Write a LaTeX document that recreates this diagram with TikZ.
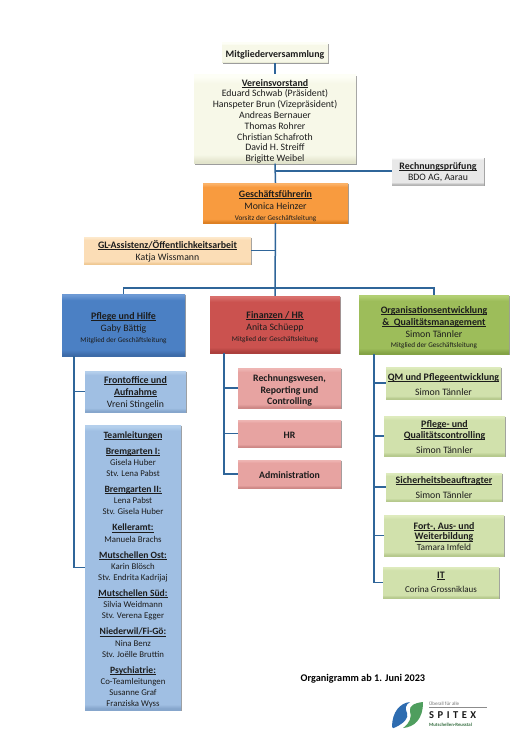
\documentclass[tikz,border=0pt]{standalone}
\usepackage{fontspec}
\setmainfont{Carlito}
\usetikzlibrary{shadows}
\newcommand{\mkbevel}[4]{%
  \definecolor{#1L}{HTML}{#2}\definecolor{#1B}{HTML}{#3}\definecolor{#1D}{HTML}{#4}%
  \pgfdeclareverticalshading{#1}{100bp}{color(0bp)=(#1D); color(25bp)=(#1D); color(26bp)=(#1D); color(30bp)=(#1B); color(70bp)=(#1B); color(74bp)=(#1L); color(75bp)=(#1L); color(100bp)=(#1L)}}
\mkbevel{cream}{FDFEF6}{F7F8E8}{E2E4CC}
\mkbevel{greyb}{FFFFFF}{E8E8E8}{B4B4B4}
\mkbevel{orangeb}{FBB268}{F89B3F}{DD7F22}
\mkbevel{peach}{FDE9CC}{FBDDB6}{EFC893}
\mkbevel{blueb}{6C99D4}{4B80C4}{3D6BA8}
\mkbevel{redb}{D9706D}{CB524F}{AC403D}
\mkbevel{greenb}{B2CF73}{9DBD5A}{84A345}
\mkbevel{lblue}{B4CFEC}{A0BFE3}{86A6CC}
\mkbevel{lred}{EEB5B3}{E7A3A1}{CE8886}
\mkbevel{lgreen}{DEEBBD}{D1E1AC}{B6C98D}
\definecolor{tallB}{HTML}{A0BFE3}\definecolor{tallL}{HTML}{B4CFEC}\definecolor{tallD}{HTML}{86A6CC}
\pgfdeclareverticalshading{lbluetall}{100bp}{color(0bp)=(tallD); color(25bp)=(tallD); color(25.3bp)=(tallD); color(26bp)=(tallB); color(74bp)=(tallB); color(74.7bp)=(tallL); color(75bp)=(tallL); color(100bp)=(tallL)}
\definecolor{conn}{HTML}{2F6599}
\definecolor{ink}{HTML}{1C1C1C}
\definecolor{logoblue}{HTML}{2E6CB0}
\definecolor{logogreen}{HTML}{4F9E5E}
\tikzset{
  orgbox/.style={draw=none,inner sep=0pt,align=center,text=ink,
    drop shadow={shadow xshift=0.6pt,shadow yshift=-1.4pt,fill=black!70,opacity=.55}},
  wire/.style={draw=conn,line width=1.5pt},
  wirethin/.style={draw=conn,line width=1.2pt}
}
\newcommand{\fs}[2]{\fontsize{#1}{#2}\selectfont}
\newcommand{\bx}[8]{% name x1 y1 x2 y2 shading baselineskip text
  \pgfmathsetmacro{\cxx}{(#2+#4)/2}\pgfmathsetmacro{\cyy}{(#3+#5)/2}%
  \pgfmathsetmacro{\wdd}{#4-#2}\pgfmathsetmacro{\htt}{#5-#3}%
  \node[orgbox,shading=#6,minimum width=\wdd pt,minimum height=\htt pt,font={\fs{9.8}{#7}\lineskiplimit=-100pt\relax}] (#1) at (\cxx,\cyy) {#8};}
\newcommand{\up}[1]{\rule{0pt}{\dimexpr 7.4pt+#1pt*2\relax}}
\newcommand{\hd}[1]{{\bfseries\fontsize{9.9}{11}\selectfont\setbox0=\hbox{#1}\rlap{\rule[-1.3pt]{\wd0}{0.55pt}}\box0}}
\newcommand{\hdt}[1]{{\bfseries\fontsize{9.6}{11}\selectfont\setbox0=\hbox{#1}\rlap{\rule[-1.3pt]{\wd0}{0.55pt}}\box0}}
\newcommand{\sm}[1]{{\fontsize{7.2}{9}\selectfont #1}}
\newcommand{\tn}[1]{{\fontsize{8.8}{11}\selectfont #1}}
\begin{document}
\begin{tikzpicture}[x=1pt,y=-1pt]
\useasboundingbox[fill=white] (0,0) rectangle (532,752);
\bx{mv}{222}{43}{328}{63}{cream}{11}{\up{1.5}\textbf{\fontsize{9.9}{11}\selectfont Mitgliederversammlung}}
\bx{vv}{194}{76}{356}{162}{cream}{10.8}{\up{2}\hd{Vereinsvorstand}\\Eduard Schwab (Präsident)\\Hanspeter Brun (Vizepräsident)\\Andreas Bernauer\\Thomas Rohrer\\Christian Schafroth\\David H. Streiff\\Brigitte Weibel}
\bx{rp}{392}{157}{484}{185}{greyb}{11}{\up{1}\hd{Rechnungsprüfung}\\BDO AG, Aarau}
\bx{gf}{203}{183}{348}{223}{orangeb}{12}{\up{2.5}\hd{Geschäftsführerin}\\Monica Heinzer\\[-1pt]\sm{Vorsitz der Geschäftsleitung}}
\bx{gl}{84}{237}{251}{264}{peach}{12}{\up{1}\hd{GL-Assistenz/Öffentlichkeitsarbeit}\\Katja Wissmann}
\bx{pf}{62}{294}{185}{356}{blueb}{12}{\up{2.7}\hd{Pflege und Hilfe}\\Gaby Bättig\\[-1pt]\sm{Mitglied der Geschäftsleitung}}
\bx{fi}{210}{296}{340}{353}{redb}{12}{\up{2.3}\hd{Finanzen / HR}\\Anita Schüepp\\[-1.5pt]\sm{Mitglied der Geschäftsleitung}}
\bx{og}{359}{295}{509}{354}{greenb}{12}{\up{2.5}\hd{Organisationsentwicklung}\\\hd{\&\ \ Qualitätsmanagement}\\Simon Tännler\\[-2pt]\sm{Mitglied der Geschäftsleitung}}
\bx{fo}{85}{371}{186}{412}{lblue}{12}{\up{1}\hd{Frontoffice und}\\\hd{Aufnahme}\\Vreni Stingelin}
\bx{tl}{85}{425}{181}{710}{lbluetall}{11.2}{\up{2}\hdt{Teamleitungen}\\[4.8pt]
  \hdt{Bremgarten I:}\\\tn{Gisela Huber}\\\tn{Stv. Lena Pabst}\\[4.8pt]
  \hdt{Bremgarten II:}\\\tn{Lena Pabst}\\\tn{Stv. Gisela Huber}\\[4.8pt]
  \hdt{Kelleramt:}\\\tn{Manuela Brachs}\\[4.8pt]
  \hdt{Mutschellen Ost:}\\\tn{Karin Blösch}\\\tn{Stv. Endrita Kadrijaj}\\[4.8pt]
  \hdt{Mutschellen Süd:}\\\tn{Silvia Weidmann}\\\tn{Stv. Verena Egger}\\[4.8pt]
  \hdt{Niederwil/Fi-Gö:}\\\tn{Nina Benz}\\\tn{Stv. Joëlle Bruttin}\\[4.8pt]
  \hdt{Psychiatrie:}\\\tn{Co-Teamleitungen}\\\tn{Susanne Graf}\\\tn{Franziska Wyss}}
\bx{rw}{238}{368}{341}{408}{lred}{11.6}{\up{2.3}\textbf{Rechnungswesen,}\\\textbf{Reporting und}\\\textbf{Controlling}}
\bx{hr}{238}{420}{341}{447}{lred}{12}{\up{1}\textbf{HR}}
\bx{ad}{238}{460}{341}{488}{lred}{12}{\up{1}\textbf{Administration}}
\bx{qm}{386}{367}{501}{399}{lgreen}{15}{\up{1}\hd{QM und Pflegeentwicklung}\\Simon Tännler}
\bx{pq}{384}{416}{505}{456}{lgreen}{11}{\up{.7}\hd{Pflege- und}\\\hd{Qualitätscontrolling}\\[4pt]Simon Tännler}
\bx{si}{386}{473}{502}{501}{lgreen}{15}{\up{.5}\hd{Sicherheitsbeauftragter}\\Simon Tännler}
\bx{fb}{384}{515}{504}{556}{lgreen}{10.8}{\up{.7}\hd{Fort-, Aus- und}\\\hd{Weiterbildung}\\{\fontsize{9.4}{11}\selectfont Tamara Imfeld}}
\bx{it}{383}{567}{499}{598}{lgreen}{14.3}{\hd{IT}\\{\fontsize{9}{11}\selectfont Corina Grossniklaus}}
% connectors
\coordinate (bus) at (275,288);
\coordinate (pv) at (74,356);
\coordinate (fv) at (224,353);
\coordinate (ov) at (374,354);
\draw[wire] (mv.south) -- (vv.north);
\draw[wire] (vv.south) -- (gf.north);
\draw[wirethin] (rp.west) -- (rp.west -| vv.south);
\draw[wire] (gf.south) -- (bus) -- (fi.north);
\draw[wirethin] (gl.east) -- (gl.east -| gf.south);
\draw[wirethin] (pf.north) -- (pf.north |- bus) -- (og.north |- bus) -- (og.north);
\draw[wirethin] (pv) -- (pv |- tl.west) -- (tl.west);
\draw[wirethin] (fo.west) -- (fo.west -| pv);
\draw[wirethin] (fv) -- (fv |- ad.west) -- (ad.west);
\draw[wirethin] (rw.west) -- (rw.west -| fv);
\draw[wirethin] (hr.west) -- (hr.west -| fv);
\draw[wirethin] (ov) -- (ov |- it.west) -- (it.west);
\draw[wirethin] (qm.west) -- (qm.west -| ov);
\draw[wirethin] (pq.west) -- (pq.west -| ov);
\draw[wirethin] (si.west) -- (si.west -| ov);
\draw[wirethin] (fb.west) -- (fb.west -| ov);
% title
\node[anchor=west,inner sep=0pt,text=black,font={\fs{10.25}{12}\bfseries}] (title) at (300.5,678.5) {Organigramm ab 1. Juni 2023};
% logo
\fill[logoblue] (410,702) .. controls (400,703) and (392,712) .. (392,727) .. controls (392,729) and (394,728) .. (396,727) .. controls (404,723) and (409,718) .. (407,713) .. controls (405,709) and (405,705) .. (410,702) -- cycle;
\fill[logogreen] (423,702) .. controls (414,703) and (409,706) .. (410,711) .. controls (412,717) and (410,723) .. (403,728) .. controls (414,727) and (423,720) .. (423,702) -- cycle;
\node[inner sep=0pt,anchor=west,text=black!55,font={\fs{5}{6}}] (l1) at (429,703.5) {Überall für alle};
\draw[black!45,line width=0.4pt] (429,707) -- (487,707);
\node[inner sep=0pt,anchor=west,text=black!90,font={\fs{10.5}{12}\bfseries}] (l2) at (429,715) {S\,\,P\,\,I\,\,T\,\,E\,\,X};
\node[inner sep=0pt,anchor=west,text=logogreen!70!black,font={\fs{4.8}{6}\bfseries}] (l3) at (429,724.5) {Mutschellen-Reusstal};
\end{tikzpicture}
\end{document}
